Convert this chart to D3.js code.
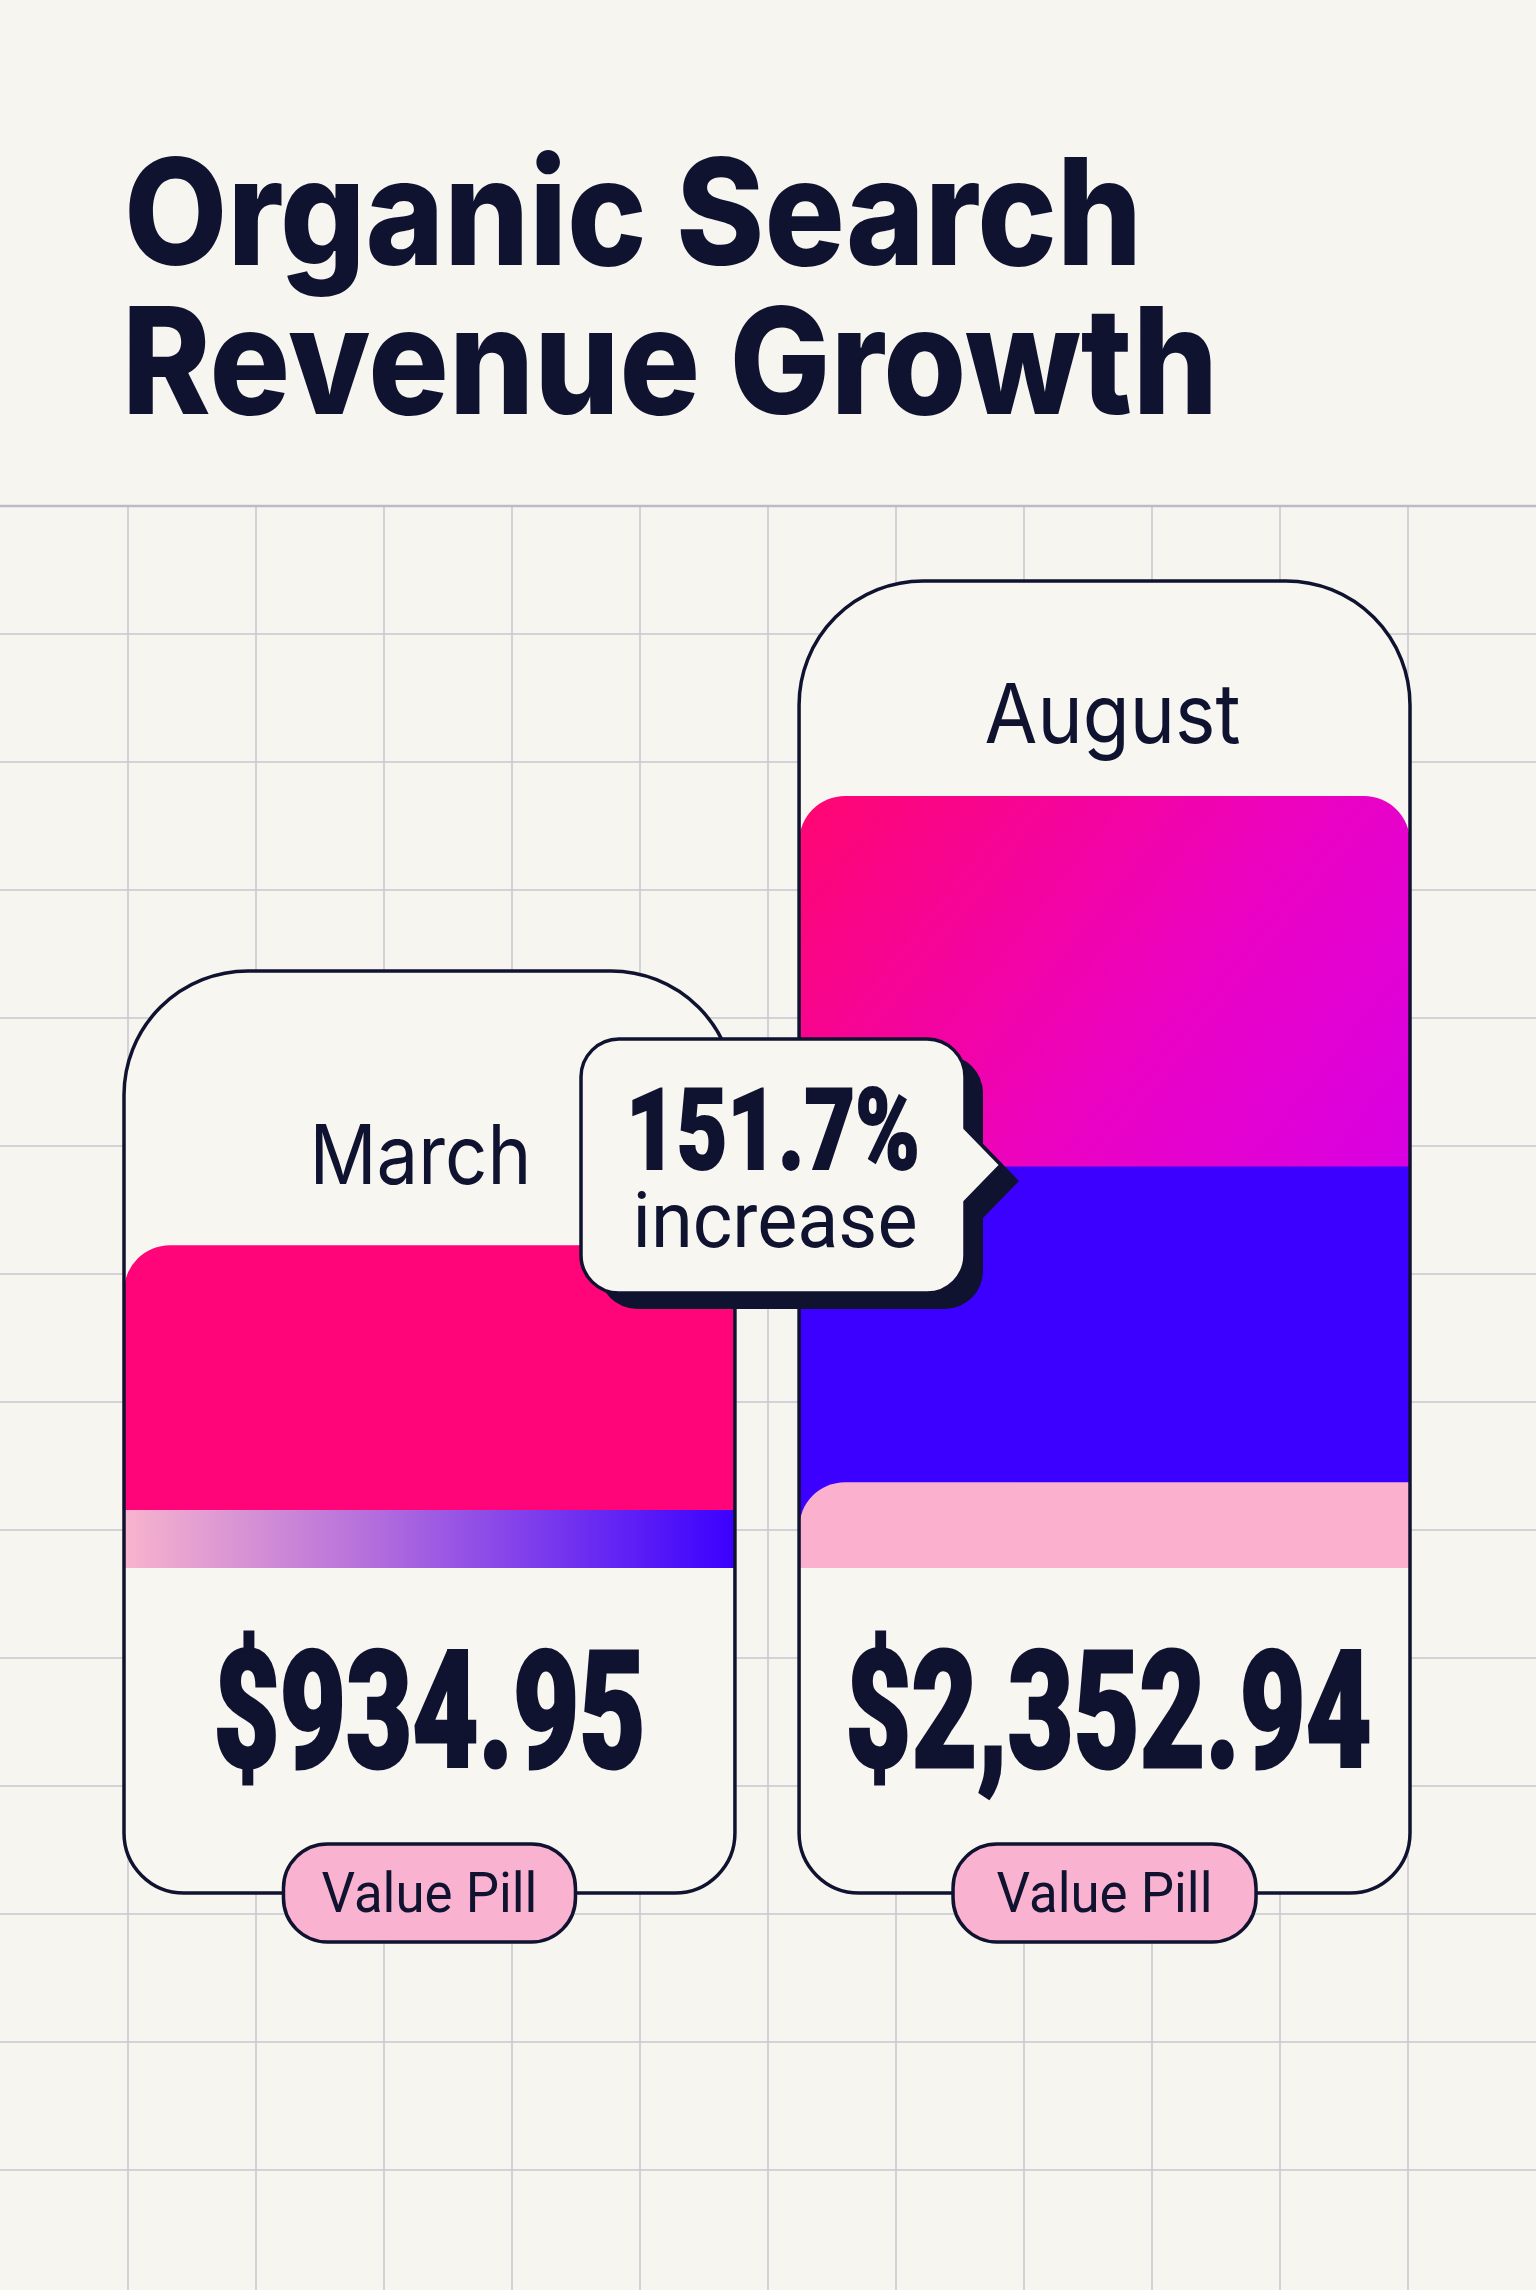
<!DOCTYPE html>
<html>
<head>
<meta charset="utf-8">
<script src="https://cdn.jsdelivr.net/npm/d3@7"></script>
<style>
  html, body { margin: 0; padding: 0; background: #f7f5f0; }
  svg { display: block; }
</style>
</head>
<body>
<div id="chart"></div>
<script>
// Organic search revenue, March vs August
const months = ['March', 'August'];
const revenue = [934.95, 2352.94];
const valueLabels = ['$934.95', '$2,352.94'];
const pillLabels = ['Value Pill', 'Value Pill'];
const increaseLabel = ['151.7%', 'increase'];
const titleLines = ['Organic Search', 'Revenue Growth'];

// stacked bar parts (share of the bar axis, 0-100)
const segmentKeys = ['base', 'middle', 'top'];
const baseShare = [7.5, 11.1];
const middleShare = [34.3, 40.9];
const topShare = [0, 48.0];

const W = 1536, H = 2290;
const navy = '#0f1330';
const bg = '#f7f5f0';

const svg = d3.select('#chart')
    .append('svg')
    .attr('width', W)
    .attr('height', H)
    .attr('viewBox', `0 0 ${W} ${H}`);

const defs = svg.append('defs');

// gradient strip under the March bar
const strip = defs.append('linearGradient').attr('id', 'stripGrad')
    .attr('x1', '0%').attr('x2', '100%').attr('y1', '0%').attr('y2', '0%');
strip.append('stop').attr('offset', '0%').attr('stop-color', '#f8b4cd');
strip.append('stop').attr('offset', '40%').attr('stop-color', '#b56fdc');
strip.append('stop').attr('offset', '100%').attr('stop-color', '#3a00ff');

// magenta top of the August bar
const mag = defs.append('linearGradient').attr('id', 'magGrad')
    .attr('x1', '0%').attr('y1', '0%').attr('x2', '100%').attr('y2', '100%');
mag.append('stop').attr('offset', '0%').attr('stop-color', '#ff0670');
mag.append('stop').attr('offset', '45%').attr('stop-color', '#ea02c4');
mag.append('stop').attr('offset', '100%').attr('stop-color', '#c800ff');

svg.append('rect').attr('width', W).attr('height', H).attr('fill', bg);

// Background grid
const gridTop = 506;
const grid = svg.append('g');
grid.selectAll('.vline')
    .data(d3.range(128, W, 128))
    .enter()
    .append('line')
    .attr('x1', d => d).attr('x2', d => d)
    .attr('y1', gridTop).attr('y2', H)
    .attr('stroke', '#c6c6d0')
    .attr('stroke-width', 1.5);
grid.selectAll('.hline')
    .data(d3.range(gridTop, H, 128))
    .enter()
    .append('line')
    .attr('x1', 0).attr('x2', W)
    .attr('y1', d => d).attr('y2', d => d)
    .attr('stroke', (d, i) => i === 0 ? '#bcbcc6' : '#c6c6d0')
    .attr('stroke-width', (d, i) => i === 0 ? 2.5 : 1.5);

// Title
svg.selectAll('.title')
    .data(titleLines)
    .enter()
    .append('text')
    .attr('x', (d, i) => i === 0 ? 124 : 122)
    .attr('y', (d, i) => i === 0 ? 265 : 414)
    .attr('textLength', (d, i) => i === 0 ? 1018 : 1096)
    .attr('lengthAdjust', 'spacingAndGlyphs')
    .style('font-family', 'Inter, "Liberation Sans", sans-serif')
    .style('font-weight', 800)
    .style('font-size', '148px')
    .style('fill', navy)
    .text(d => d);

// Scales
const x = d3.scaleBand().domain(months).range([124, 1410]).paddingInner(0.095);
const y = d3.scaleLinear().domain([0, 100]).range([1568, 796]);

const cardTop = { March: 971, August: 581 };
const cardBottom = 1893;

function cardPath(x0, y0, w, h, rt, rb) {
    const p = d3.path();
    const x1 = x0 + w, y1 = y0 + h;
    p.moveTo(x0 + rt, y0);
    p.lineTo(x1 - rt, y0);
    p.arcTo(x1, y0, x1, y0 + rt, rt);
    p.lineTo(x1, y1 - rb);
    p.arcTo(x1, y1, x1 - rb, y1, rb);
    p.lineTo(x0 + rb, y1);
    p.arcTo(x0, y1, x0, y1 - rb, rb);
    p.lineTo(x0, y0 + rt);
    p.arcTo(x0, y0, x0 + rt, y0, rt);
    p.closePath();
    return p.toString();
}

function topRounded(x0, y0, w, h, rl, rr) {
    const p = d3.path();
    const x1 = x0 + w, y1 = y0 + h;
    p.moveTo(x0, y1);
    p.lineTo(x0, y0 + rl);
    if (rl) p.arcTo(x0, y0, x0 + rl, y0, rl);
    p.lineTo(x1 - rr, y0);
    if (rr) p.arcTo(x1, y0, x1, y0 + rr, rr);
    p.lineTo(x1, y1);
    p.closePath();
    return p.toString();
}

const table = months.map((m, i) => ({
    month: m, base: baseShare[i], middle: middleShare[i], top: topShare[i]
}));
const stacked = d3.stack().keys(segmentKeys)(table);

const segStyle = {
    March: { base: ['url(#stripGrad)', 0, 0], middle: ['#ff0579', 46, 46], top: ['none', 0, 0] },
    August: { base: ['#fbb1ce', 46, 0], middle: ['#3b00ff', 0, 0], top: ['url(#magGrad)', 46, 46] }
};

const cards = svg.selectAll('.card')
    .data(table)
    .enter()
    .append('g')
    .attr('class', 'card');

cards.each(function(d, i) {
    const g = d3.select(this);
    const cx = x(d.month), bw = x.bandwidth();
    const path = cardPath(cx, cardTop[d.month], bw, cardBottom - cardTop[d.month], 124, 60);

    defs.append('clipPath').attr('id', 'clip-' + d.month)
        .append('path').attr('d', path);

    g.append('path').attr('d', path).attr('fill', '#f8f6f1');

    // segments, drawn top part first so the lower parts sit over it
    const bars = g.append('g').attr('clip-path', `url(#clip-${d.month})`);
    segmentKeys.slice().reverse().forEach(key => {
        const layer = stacked.find(s => s.key === key);
        const v = layer[i];
        if (v[1] - v[0] <= 0) return;
        const st = segStyle[d.month][key];
        bars.append('path')
            .attr('d', topRounded(cx, y(v[1]), bw, y(0) - y(v[1]), st[1], st[2]))
            .attr('fill', st[0]);
    });

    g.append('path').attr('d', path)
        .attr('fill', 'none')
        .attr('stroke', navy)
        .attr('stroke-width', 3.5);

    // month label
    const barTop = y(d.base + d.middle + d.top);
    g.append('text')
        .attr('x', cx + bw / 2 + (i === 0 ? -9 : 8))
        .attr('y', barTop - (i === 0 ? 61 : 53))
        .attr('text-anchor', 'middle')
        .attr('textLength', i === 0 ? 222 : 256)
        .attr('lengthAdjust', 'spacingAndGlyphs')
        .style('font-family', 'Inter, "Liberation Sans", sans-serif')
        .style('font-size', '82px')
        .style('fill', navy)
        .text(d.month);

    // value
    g.append('text')
        .attr('x', cx + bw / 2 + (i === 0 ? 0 : 4))
        .attr('y', 1767)
        .attr('text-anchor', 'middle')
        .attr('textLength', i === 0 ? 432 : 526)
        .attr('lengthAdjust', 'spacingAndGlyphs')
        .style('font-family', 'Roboto, sans-serif')
        .style('font-weight', 900)
        .style('font-size', '164px')
        .style('fill', navy)
        .style('stroke', navy)
        .style('stroke-width', 3)
        .text(valueLabels[i]);

    // value pill on the bottom edge
    const pw = i === 0 ? 292 : 303;
    g.append('rect')
        .attr('x', cx + bw / 2 - pw / 2)
        .attr('y', cardBottom - 49)
        .attr('width', pw)
        .attr('height', 98)
        .attr('rx', 44)
        .attr('fill', '#f9b2cf')
        .attr('stroke', navy)
        .attr('stroke-width', 3.5);
    g.append('text')
        .attr('x', cx + bw / 2)
        .attr('y', 1912)
        .attr('text-anchor', 'middle')
        .attr('textLength', 216)
        .attr('lengthAdjust', 'spacingAndGlyphs')
        .style('font-family', 'Roboto, sans-serif')
        .style('font-size', '55px')
        .style('fill', navy)
        .text(pillLabels[i]);
});

// Callout with the growth figure
const box = { x0: 581, y0: 1039, x1: 965, y1: 1293, r: 38 };
function calloutPath(b) {
    const p = d3.path();
    p.moveTo(b.x0 + b.r, b.y0);
    p.lineTo(b.x1 - b.r, b.y0);
    p.arcTo(b.x1, b.y0, b.x1, b.y0 + b.r, b.r);
    p.lineTo(b.x1, 1128);
    p.lineTo(b.x1 + 36, 1165);
    p.lineTo(b.x1, 1202);
    p.lineTo(b.x1, b.y1 - b.r);
    p.arcTo(b.x1, b.y1, b.x1 - b.r, b.y1, b.r);
    p.lineTo(b.x0 + b.r, b.y1);
    p.arcTo(b.x0, b.y1, b.x0, b.y1 - b.r, b.r);
    p.lineTo(b.x0, b.y0 + b.r);
    p.arcTo(b.x0, b.y0, b.x0 + b.r, b.y0, b.r);
    p.closePath();
    return p.toString();
}
const callout = svg.append('g');
callout.append('path')
    .attr('d', calloutPath(box))
    .attr('transform', 'translate(18,16)')
    .attr('fill', navy);
callout.append('path')
    .attr('d', calloutPath(box))
    .attr('fill', '#f8f6f1')
    .attr('stroke', navy)
    .attr('stroke-width', 3.5)
    .attr('stroke-linejoin', 'round');
callout.append('text')
    .attr('x', 773).attr('y', 1169)
    .attr('text-anchor', 'middle')
    .attr('textLength', 294)
    .attr('lengthAdjust', 'spacingAndGlyphs')
    .style('font-family', 'Roboto, sans-serif')
    .style('font-weight', 900)
    .style('font-size', '114px')
    .style('fill', navy)
    .style('stroke', navy)
    .style('stroke-width', 2)
    .text(increaseLabel[0]);
callout.append('text')
    .attr('x', 775).attr('y', 1247)
    .attr('text-anchor', 'middle')
    .attr('textLength', 285)
    .attr('lengthAdjust', 'spacingAndGlyphs')
    .style('font-family', 'Roboto, sans-serif')
    .style('font-size', '78px')
    .style('fill', navy)
    .text(increaseLabel[1]);
</script>
</body>
</html>
